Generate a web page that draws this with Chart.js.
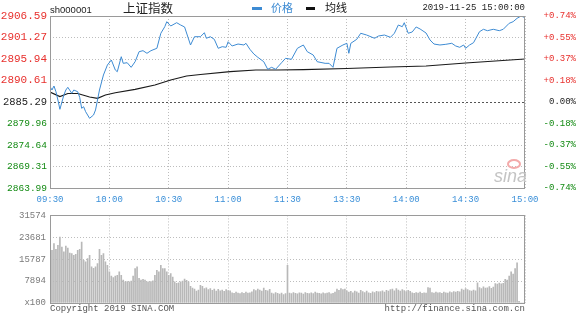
<!DOCTYPE html>
<html>
<head>
<meta charset="utf-8">
<script src="https://cdn.jsdelivr.net/npm/chart.js@4.4.1/dist/chart.umd.min.js"></script>
<style>
  html, body { margin: 0; padding: 0; background: #fff; }
  #wrap { position: relative; width: 576px; height: 322px; overflow: hidden; background: #fff; }
  canvas { position: absolute; left: 0; }
  .txt { position: absolute; white-space: nowrap; line-height: 1; }
  .mono { font-family: "Liberation Mono", "DejaVu Sans Mono", monospace; }
  .cjk { font-family: "Noto Sans CJK SC", sans-serif; }
</style>
</head>
<body>
<div id="wrap">
  <canvas id="priceChart" width="576" height="206" style="top:0"></canvas>
  <canvas id="volChart" width="576" height="110" style="top:206px"></canvas>

  <div class="txt" style="left:50px;top:5px;font-family:'Liberation Sans';font-size:9.5px;color:#222">sh000001</div>
  <div class="txt cjk" style="left:123px;top:2px;font-size:12.5px;color:#222">上证指数</div>
  <div style="position:absolute;left:252px;top:7px;width:10px;height:3px;background:#3d8bd3"></div>
  <div class="txt cjk" style="left:271px;top:2px;font-size:11px;color:#3d8bd3">价格</div>
  <div style="position:absolute;left:306px;top:7px;width:9px;height:3px;background:#111"></div>
  <div class="txt cjk" style="left:325px;top:2px;font-size:11px;color:#111">均线</div>
  <div class="txt mono" style="right:51px;top:4px;font-size:9px;color:#222">2019-11-25 15:00:00</div>

  <div class="txt" style="left:494px;top:167px;font-family:'Liberation Sans';font-style:italic;font-size:18px;color:#c4c4c4">sina</div>
  <div style="position:absolute;left:507px;top:159px;width:10px;height:6px;border:2px solid #f3aaaa;border-radius:50%"></div>

  <div class="txt mono" style="left:50px;top:305px;font-size:9px;color:#555">Copyright 2019 SINA.COM</div>
  <div class="txt mono" style="right:51px;top:305px;font-size:9px;color:#555">http://finance.sina.com.cn</div>
</div>

<script>
// ---- data ----
const xTickMin = [0, 30, 60, 90, 120, 150, 180, 210, 240];
const xTickLabels = ['09:30', '10:00', '10:30', '11:00', '11:30', '13:30', '14:00', '14:30', '15:00'];

const priceTicks = [2863.99, 2869.31, 2874.64, 2879.96, 2885.29, 2890.61, 2895.94, 2901.27, 2906.59];
const priceTickLabels = ['2863.99', '2869.31', '2874.64', '2879.96', '2885.29', '2890.61', '2895.94', '2901.27', '2906.59'];
const pctTickLabels = ['-0.74%', '-0.55%', '-0.37%', '-0.18%', '0.00%', '+0.18%', '+0.37%', '+0.55%', '+0.74%'];

const volTicks = [0, 7894, 15787, 23681, 31574];
const volTickLabels = ['x100', '7894', '15787', '23681', '31574'];

// minute index (0 = 09:30, 120 = 11:30/13:00, 240 = 15:00)
const priceMin = [0, 1, 2, 3, 4, 5, 7, 8, 9, 11, 12, 14, 15, 16, 17, 18, 20, 22, 23, 25,
  27, 29, 31, 33, 34, 36, 37, 39, 41, 43, 45, 47, 49, 51, 54, 56, 58, 59, 61, 64,
  66, 68, 71, 73, 76, 78, 79, 81, 83, 85, 87, 89, 90, 92, 95, 98, 99, 101, 103, 105,
  108, 110, 112, 114, 117, 119, 122, 125, 128, 130, 133, 135, 139, 141, 143, 145, 148, 150, 151, 152,
  155, 157, 160, 164, 166, 169, 172, 174, 176, 178, 179, 181, 183, 185, 187, 190, 192, 194, 197, 200,
  203, 205, 207, 209, 210, 212, 214, 217, 219, 221, 224, 227, 229, 232, 234, 236, 238, 240];
const priceVal = [2889.13, 2888.26, 2889.25, 2887.84, 2885.78, 2883.48, 2887.02, 2888.26, 2888.93, 2887.44,
  2888.26, 2887.84, 2886.45, 2883.73, 2884.12, 2882.89, 2881.25, 2882.07, 2883.31, 2888.26,
  2891.98, 2894.45, 2895.69, 2893.21, 2892.79, 2896.51, 2894.87, 2895.02, 2893.88, 2895.27,
  2897.75, 2898.00, 2897.35, 2898.00, 2898.59, 2902.31, 2903.94, 2905.18, 2904.11, 2904.93,
  2904.36, 2903.87, 2899.41, 2901.46, 2901.46, 2902.45, 2901.07, 2901.46, 2900.82, 2898.59,
  2898.99, 2898.84, 2900.22, 2899.16, 2899.65, 2899.41, 2899.83, 2898.34, 2897.18, 2896.36,
  2895.27, 2893.39, 2893.88, 2893.39, 2895.02, 2896.11, 2895.86, 2898.59, 2899.41, 2897.75,
  2896.93, 2895.27, 2894.87, 2894.87, 2893.88, 2898.59, 2899.41, 2899.83, 2897.35, 2899.83,
  2900.82, 2902.31, 2901.88, 2901.07, 2901.64, 2901.88, 2901.31, 2902.31, 2904.36, 2903.94,
  2904.93, 2902.31, 2902.63, 2903.87, 2903.37, 2902.38, 2900.65, 2899.65, 2899.41, 2899.58,
  2899.83, 2899.16, 2898.84, 2899.41, 2898.59, 2899.41, 2899.98, 2902.70, 2903.30, 2902.95,
  2903.30, 2902.95, 2903.30, 2904.78, 2905.18, 2906.02, 2906.59, 2906.17];

const avgMin = [0, 5, 9, 14, 20, 24, 28, 33, 43, 53, 61, 69, 76, 91, 104, 115, 128, 150, 172, 190, 210, 240];
const avgVal = [2887.77, 2886.65, 2887.39, 2887.39, 2886.53, 2886.20, 2887.02, 2887.59, 2888.43, 2889.50,
  2890.74, 2891.73, 2892.10, 2892.79, 2893.21, 2893.21, 2893.33, 2893.59, 2893.96, 2894.21, 2894.95, 2895.94];

// volume per minute, x100 shares
const volume = [
  22800, 19000, 21400, 19300, 20800, 23800, 20200, 18400, 20500, 19800,
  18000, 17800, 17200, 17500, 19000, 19300, 22000, 15400, 14800, 16000,
  17200, 13000, 12500, 13000, 14200, 19300, 17200, 17800, 14800, 13600,
  11200, 9700, 9200, 9700, 10000, 11200, 10000, 8300, 7600, 7700,
  7600, 7900, 9700, 12400, 13000, 8900, 8300, 8500, 8300, 7600,
  7600, 7700, 8000, 10000, 11800, 11200, 13600, 12400, 12400, 11200,
  10000, 10600, 9300, 7600, 7100, 7300, 7600, 7900, 8600, 8200,
  7600, 6000, 5400, 5000, 4300, 4700, 6400, 6000, 5200, 5500,
  4800, 5200, 4600, 5000, 4300, 4900, 4400, 4700, 4200, 4800,
  4500, 4400, 3700, 3500, 3900, 3600, 3400, 3800, 3500, 3900,
  3600, 3700, 4000, 4800, 4500, 5000, 4700, 4300, 5400, 4600,
  4400, 4900, 3600, 3300, 3800, 3500, 3200, 3600, 3000, 3400,
  13600, 3600, 3400, 3800, 3500, 3300, 3700, 3600, 3200, 3800,
  3500, 3400, 3700, 3400, 3900, 3600, 3500, 3300, 3700, 3400,
  3600, 3800, 3300, 3500, 3900, 5000, 4600, 5200, 4800, 5000,
  4400, 3900, 4200, 3700, 4300, 4000, 3600, 4600, 4100, 3800,
  4300, 3700, 3500, 4000, 3800, 4200, 4000, 4100, 4400, 3900,
  4600, 4300, 4800, 5000, 4400, 5200, 4700, 4300, 4800, 4500,
  4100, 4600, 4200, 3700, 3500, 3800, 3600, 3900, 3500, 3700,
  3600, 5600, 5400, 3800, 3600, 3900, 3700, 3800, 3500, 3900,
  3700, 3600, 4000, 3800, 4100, 3900, 4200, 4000, 5000, 4700,
  5200, 4800, 4500, 4300, 4700, 4400, 7300, 5600, 5200, 5800,
  5400, 5500, 5900, 5300, 5700, 7000, 6800, 7200, 6900, 7100,
  8500, 8300, 9700, 11200, 10400, 12400, 14500, 600, 0, 0,
  0
];

// ---- styles ----
const MONO = '"Liberation Mono", "DejaVu Sans Mono", monospace';
const RED = '#e8302d';
const GREEN = '#128a12';
const GRID = '#bdbdbd';
const FRAME = '#9a9a9a';

const frame = {
  id: 'frame',
  afterDraw(chart) {
    const { ctx, chartArea: a } = chart;
    ctx.save();
    ctx.strokeStyle = FRAME;
    ctx.lineWidth = 1;
    ctx.strokeRect(Math.round(a.left) + 0.5, Math.round(a.top) + 0.5,
      Math.round(a.right - a.left) - 1, Math.round(a.bottom - a.top));
    ctx.restore();
  }
};

const priceColor = i => (i > 4 ? RED : i < 4 ? GREEN : '#222');

const xScale = (height, showLabels) => ({
  type: 'linear', min: 0, max: 240, offset: false,
  afterBuildTicks: s => { s.ticks = xTickMin.map(v => ({ value: v })); },
  afterFit: s => { s.height = height; },
  ticks: {
    display: showLabels, autoSkip: false, maxRotation: 0, padding: 6,
    color: '#3a8fd8', font: { family: MONO, size: 9 },
    callback: (v, i) => xTickLabels[i]
  },
  grid: { color: GRID, drawTicks: false, offset: false },
  border: { display: false, dash: [1, 2] }
});

new Chart(document.getElementById('priceChart'), {
  type: 'line',
  data: {
    datasets: [
      { label: '价格', data: priceMin.map((m, i) => ({ x: m, y: priceVal[i] })),
        borderColor: '#3d8bd3', borderWidth: 1, pointRadius: 0, tension: 0, yAxisID: 'y' },
      { label: '均线', data: avgMin.map((m, i) => ({ x: m, y: avgVal[i] })),
        borderColor: '#1a1a1a', borderWidth: 1.2, pointRadius: 0, tension: 0, yAxisID: 'y' }
    ]
  },
  options: {
    responsive: false, animation: false, events: [],
    layout: { padding: { top: 16, left: 0, right: 0, bottom: 0 } },
    plugins: { legend: { display: false }, tooltip: { enabled: false } },
    scales: {
      x: xScale(18, true),
      y: {
        position: 'left', min: 2863.99, max: 2906.59,
        afterBuildTicks: s => { s.ticks = priceTicks.map(v => ({ value: v })); },
        afterFit: s => { s.width = 50; },
        ticks: {
          padding: 3,
          color: ctx => priceColor(ctx.index),
          font: ctx => ({ family: MONO, size: ctx.index > 4 ? 11 : (ctx.index === 4 ? 10.5 : 9.5) }),
          callback: (v, i) => priceTickLabels[i]
        },
        grid: { color: ctx => (ctx.index === 4 ? '#555' : GRID), drawTicks: false },
        border: { display: false, dash: ctx => (ctx.index === 4 ? [2, 2] : [1, 2]) }
      },
      y2: {
        position: 'right', min: 2863.99, max: 2906.59,
        afterBuildTicks: s => { s.ticks = priceTicks.map(v => ({ value: v })); },
        afterFit: s => { s.width = 51; },
        ticks: {
          padding: 4, crossAlign: 'far',
          color: ctx => priceColor(ctx.index),
          font: { family: MONO, size: 9 },
          callback: (v, i) => pctTickLabels[i]
        },
        grid: { display: false },
        border: { display: false }
      }
    }
  },
  plugins: [frame]
});

new Chart(document.getElementById('volChart'), {
  type: 'bar',
  data: {
    datasets: [{
      data: volume.map((v, i) => ({ x: i, y: v })),
      backgroundColor: '#b8b8b8', barThickness: 1, grouped: false
    }]
  },
  options: {
    responsive: false, animation: false, events: [],
    layout: { padding: { top: 9, left: 0, right: 51, bottom: 0 } },
    plugins: { legend: { display: false }, tooltip: { enabled: false } },
    scales: {
      x: xScale(13, false),
      y: {
        position: 'left', min: 0, max: 31574,
        afterBuildTicks: s => { s.ticks = volTicks.map(v => ({ value: v })); },
        afterFit: s => { s.width = 50; },
        ticks: {
          padding: 4, color: '#7a7a7a', font: { family: MONO, size: 9 },
          callback: (v, i) => volTickLabels[i]
        },
        grid: { color: GRID, drawTicks: false },
        border: { display: false, dash: [1, 2] }
      }
    }
  },
  plugins: [frame]
});
</script>
</body>
</html>
